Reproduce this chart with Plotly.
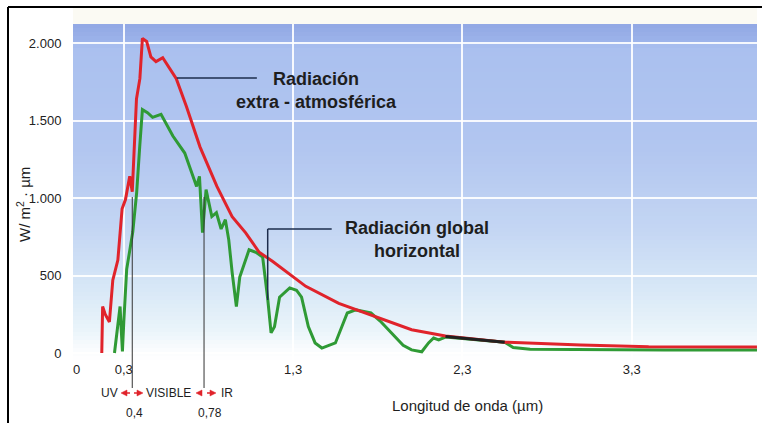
import plotly.graph_objects as go

# ---------------- data ----------------
ext_wl = [0.17, 0.175, 0.19, 0.215, 0.235, 0.265, 0.29, 0.31, 0.335, 0.35, 0.375, 0.395, 0.41,
          0.435, 0.46, 0.49, 0.53, 0.61, 0.67, 0.75, 0.85, 0.94, 1.02, 1.1, 1.18, 1.375, 1.57,
          1.8, 2.0, 2.2, 2.55, 3.0, 3.4, 4.04]
ext_val = [0, 300, 250, 200, 470, 600, 930, 990, 1140, 1040, 1640, 1770, 2030,
           2010, 1910, 1880, 1905, 1770, 1590, 1330, 1075, 880, 775, 650, 590, 430, 320,
           230, 150, 110, 70, 52, 40, 38]

glob_wl = [0.245, 0.265, 0.278, 0.285, 0.292, 0.30, 0.317, 0.353, 0.376, 0.394, 0.41, 0.44,
           0.47, 0.52, 0.59, 0.66, 0.706, 0.73, 0.747, 0.765, 0.786, 0.82, 0.847, 0.875, 0.9,
           0.92, 0.94, 0.965, 0.985, 1.04, 1.08, 1.12, 1.15, 1.17, 1.19, 1.22, 1.28, 1.32,
           1.35, 1.39, 1.43, 1.47, 1.55, 1.59, 1.62, 1.67, 1.76, 1.82, 1.88, 1.95, 2.0, 2.06,
           2.1, 2.13, 2.16, 2.2, 2.55, 2.6, 2.7, 3.0, 3.5, 4.04]
glob_val = [0, 200, 300, 150, 10, 200, 540, 780, 1035, 1330, 1570, 1550,
            1520, 1540, 1400, 1290, 1140, 1075, 1140, 776, 1054, 880, 905, 800, 860,
            730, 520, 300, 490, 666, 650, 620, 350, 130, 170, 360, 420, 405,
            360, 170, 65, 32, 65, 170, 258, 278, 258, 200, 130, 50, 20, 8,
            65, 97, 85, 103, 70, 35, 25, 22, 20, 20]

# segment where both curves coincide (printed dark)
ovl_wl = [2.2, 2.35, 2.55]
ovl_val = [106, 90, 70]

y_ticks = [0, 500, 1000, 1500, 2000]
y_tick_text = ["0", "500", "1.000", "1.500", "2.000"]
x_ticks = [0, 0.3, 1.3, 2.3, 3.3]
x_tick_text = ["  0", "0,3", "1,3", "2,3", "3,3"]

label_ext = "Radiación<br>extra - atmosférica"
label_glob = "Radiación global<br>horizontal"
x_title = "Longitud de onda (µm)"
y_title = "W/ m<sup>2</sup> · µm"
band_labels = ["UV", "VISIBLE", "IR"]
band_limits = ["0,4", "0,78"]

# ---------------- layout helpers ----------------
W, H = 762, 423
L, R, T, B = 73, 757, 24, 360


def xp(px):
    return (px - L) / (R - L)


def yp(py):
    return (B - py) / (B - T)


FONT = "Arial, Liberation Sans, sans-serif"
RED = "#e0232b"

fig = go.Figure()
fig.add_trace(go.Scatter(x=glob_wl, y=glob_val, mode="lines",
                         line=dict(color="#2f9a35", width=3), hoverinfo="skip"))
fig.add_trace(go.Scatter(x=ext_wl, y=ext_val, mode="lines",
                         line=dict(color=RED, width=3), hoverinfo="skip"))
fig.add_trace(go.Scatter(x=ovl_wl, y=ovl_val, mode="lines",
                         line=dict(color="#202020", width=3), hoverinfo="skip"))

shapes = []
# gradient background in bands
stops = [(24, (146, 168, 228)), (42, (156, 179, 234)), (47, (170, 192, 239)),
         (150, (178, 198, 240)), (230, (196, 214, 243)), (290, (216, 232, 247)),
         (330, (234, 244, 250)), (350, (250, 252, 254)), (360, (255, 255, 255))]


def col_at(py):
    for (p0, c0), (p1, c1) in zip(stops[:-1], stops[1:]):
        if p0 <= py <= p1:
            t = (py - p0) / (p1 - p0)
            return tuple(round(a + (b - a) * t) for a, b in zip(c0, c1))
    return stops[-1][1]


step = 4
py = T
while py < B:
    c = col_at(py + step / 2)
    shapes.append(dict(type="rect", xref="paper", yref="paper", x0=0, x1=1,
                       y0=yp(min(py + step, B)), y1=yp(py), line=dict(width=0),
                       fillcolor="rgb(%d,%d,%d)" % c, layer="below"))
    py += step
# pale strip above the plot
shapes.append(dict(type="rect", xref="paper", yref="paper", x0=0, x1=1, y0=yp(T), y1=yp(8),
                   line=dict(width=0), fillcolor="#fbfaf3", layer="below"))

# leader lines
LC = "#1c2c4c"
shapes.append(dict(type="line", xref="x", yref="y", x0=0.613, x1=1.086, y0=1774, y1=1774,
                   line=dict(color=LC, width=1.5)))
shapes.append(dict(type="line", xref="x", yref="y", x0=1.15, x1=1.528, y0=800, y1=800,
                   line=dict(color=LC, width=1.5)))
shapes.append(dict(type="line", xref="x", yref="y", x0=1.15, x1=1.15, y0=800, y1=342,
                   line=dict(color=LC, width=1.5)))
# band boundaries
for bx in (0.35, 0.774):
    shapes.append(dict(type="line", xref="x", yref="paper", x0=bx, x1=bx,
                       y0=yp(197), y1=yp(388), line=dict(color="#333333", width=1)))
# red arrows in the band row (head px, tail px)
ROW = 393
for head, tail in ((121, 130), (143, 134), (196, 202), (216, 207)):
    d = 1 if tail > head else -1
    base = head + d * 6
    shapes.append(dict(type="line", xref="paper", yref="paper", x0=xp(base), x1=xp(tail),
                       y0=yp(ROW), y1=yp(ROW), line=dict(color=RED, width=1.5)))
    path = "M %f,%f L %f,%f L %f,%f Z" % (xp(head), yp(ROW), xp(base), yp(ROW - 3),
                                          xp(base), yp(ROW + 3))
    shapes.append(dict(type="path", xref="paper", yref="paper", path=path,
                       fillcolor=RED, line=dict(color=RED, width=0.5)))
# frame
shapes.append(dict(type="line", xref="paper", yref="paper", x0=xp(8), x1=xp(8),
                   y0=yp(7), y1=yp(430), line=dict(color="black", width=2)))
shapes.append(dict(type="line", xref="paper", yref="paper", x0=xp(8), x1=xp(770),
                   y0=yp(7), y1=yp(7), line=dict(color="black", width=2)))


def text(t, px, py, size, xanchor="center", angle=0):
    return dict(text=t, xref="paper", yref="paper", x=xp(px), y=yp(py), xanchor=xanchor,
                yanchor="middle", showarrow=False, textangle=angle, align="center",
                font=dict(family=FONT, size=size, color="#1e1e1e"))


ann = [
    text("<b>%s</b>" % label_ext, 316, 91, 18),
    text("<b>%s</b>" % label_glob, 417, 240, 18),
    text(band_labels[0], 120, ROW, 12, "right"),
    text(band_labels[1], 144, ROW, 12, "left"),
    text(band_labels[2], 219, ROW, 12, "left"),
    text(band_limits[0], 134, 413, 12),
    text(band_limits[1], 210, 413, 12),
    text(x_title, 467, 405, 15),
    text(y_title, 23, 205, 15, angle=-90),
]

fig.update_layout(
    width=W, height=H,
    margin=dict(l=L, r=W - R, t=T, b=H - B, autoexpand=False),
    paper_bgcolor="white", plot_bgcolor="rgba(0,0,0,0)",
    showlegend=False,
    shapes=shapes, annotations=ann,
    font=dict(family=FONT, size=13, color="#222222"),
)
fig.update_xaxes(range=[0, (R - L) / 169.3], tickvals=x_ticks, ticktext=x_tick_text,
                 showgrid=True, gridcolor="rgba(255,255,255,0.9)", gridwidth=2,
                 zeroline=False, showline=False, ticks="", tickfont=dict(size=13))
fig.update_yaxes(range=[(353 - B) / 0.155, (353 - T) / 0.155], tickvals=y_ticks,
                 ticktext=y_tick_text, showgrid=True, gridcolor="rgba(255,255,255,0.9)",
                 gridwidth=2, zeroline=False, showline=False, ticks="outside", ticklen=8,
                 tickcolor="rgba(0,0,0,0)", tickfont=dict(size=13))

fig.write_html("out.html", config={"displayModeBar": False, "staticPlot": True})

# remove the browser's default page margin so the figure sits at (0, 0)
with open("out.html", encoding="utf-8") as f:
    html = f.read()
html = html.replace("<head>", "<head><style>html,body{margin:0;padding:0;overflow:hidden;}</style>", 1)
with open("out.html", "w", encoding="utf-8") as f:
    f.write(html)
